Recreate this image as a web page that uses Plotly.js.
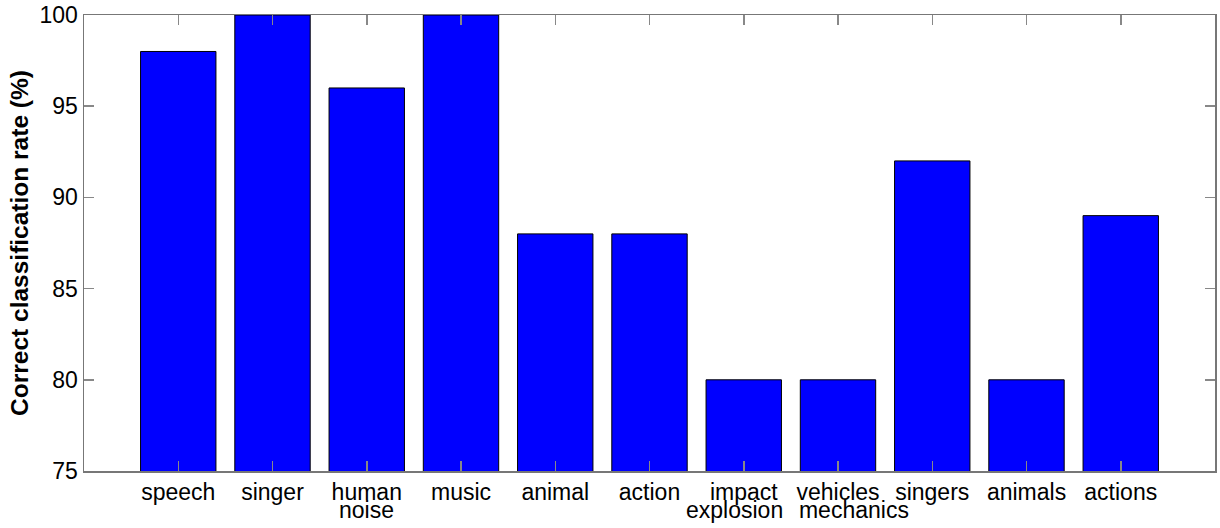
<!DOCTYPE html>
<html>
<head>
<meta charset="utf-8">
<script src="https://cdn.plot.ly/plotly-3.0.1.min.js"></script>
<style>html,body{margin:0;padding:0;background:#fff;}#chart{width:1220px;height:528px;}</style>
</head>
<body>
<div id="chart"></div>
<script>
const labelTop = ["speech","singer","human","music","animal","action","impact","vehicles","singers","animals","actions"];
const labelBottom = ["","","noise","","","","explosion\u00a0\u00a0\u00a0","\u00a0\u00a0\u00a0\u00a0\u00a0mechanics","","",""];
const positions = [1,2,3,4,5,6,7,8,9,10,11];
const rates = [98,100,96,100,88,88,80,80,92,80,89];
const yTicks = [75,80,85,90,95,100];

const trace = {
  type: 'bar',
  x: positions,
  y: rates,
  base: 0,
  width: 0.8,
  marker: {color: '#0000ff', line: {color: '#000000', width: 1}},
  hoverinfo: 'skip'
};

const annotations = [];
labelBottom.forEach((t, i) => {
  if (t) annotations.push({
    x: positions[i], xref: 'x', y: 0, yref: 'paper',
    xanchor: 'center', yanchor: 'middle', yshift: -39,
    text: t, showarrow: false,
    font: {size: 23, color: '#000', family: 'Liberation Sans, Arial, sans-serif'}
  });
});

const layout = {
  width: 1220, height: 528,
  margin: {l: 84, r: 5, t: 15, b: 57},
  paper_bgcolor: '#ffffff', plot_bgcolor: '#ffffff',
  font: {family: 'Liberation Sans, Arial, sans-serif', size: 23, color: '#000'},
  showlegend: false,
  annotations: annotations,
  xaxis: {
    range: [0, 12], tickmode: 'array', tickvals: positions, ticktext: labelTop,
    tickangle: 0,
    ticks: 'inside', ticklen: 10, tickcolor: '#888', tickwidth: 1.5,
    showline: true, linecolor: '#777', linewidth: 1.5, mirror: 'ticks',
    showgrid: false, zeroline: false, fixedrange: true,
    tickfont: {size: 23, color: '#000'}
  },
  yaxis: {
    range: [75, 100], tickmode: 'array', tickvals: yTicks,
    ticks: 'inside', ticklen: 10, tickcolor: '#888', tickwidth: 1.5,
    showline: true, linecolor: '#777', linewidth: 1.5, mirror: 'ticks',
    showgrid: false, zeroline: false, fixedrange: true,
    tickfont: {size: 23, color: '#000'},
    title: {text: '<b>Correct classification rate (%)</b>', font: {size: 24.5, color: '#000'}, standoff: 4}
  }
};

Plotly.newPlot('chart', [trace], layout, {displayModeBar: false, staticPlot: true});
</script>
</body>
</html>
